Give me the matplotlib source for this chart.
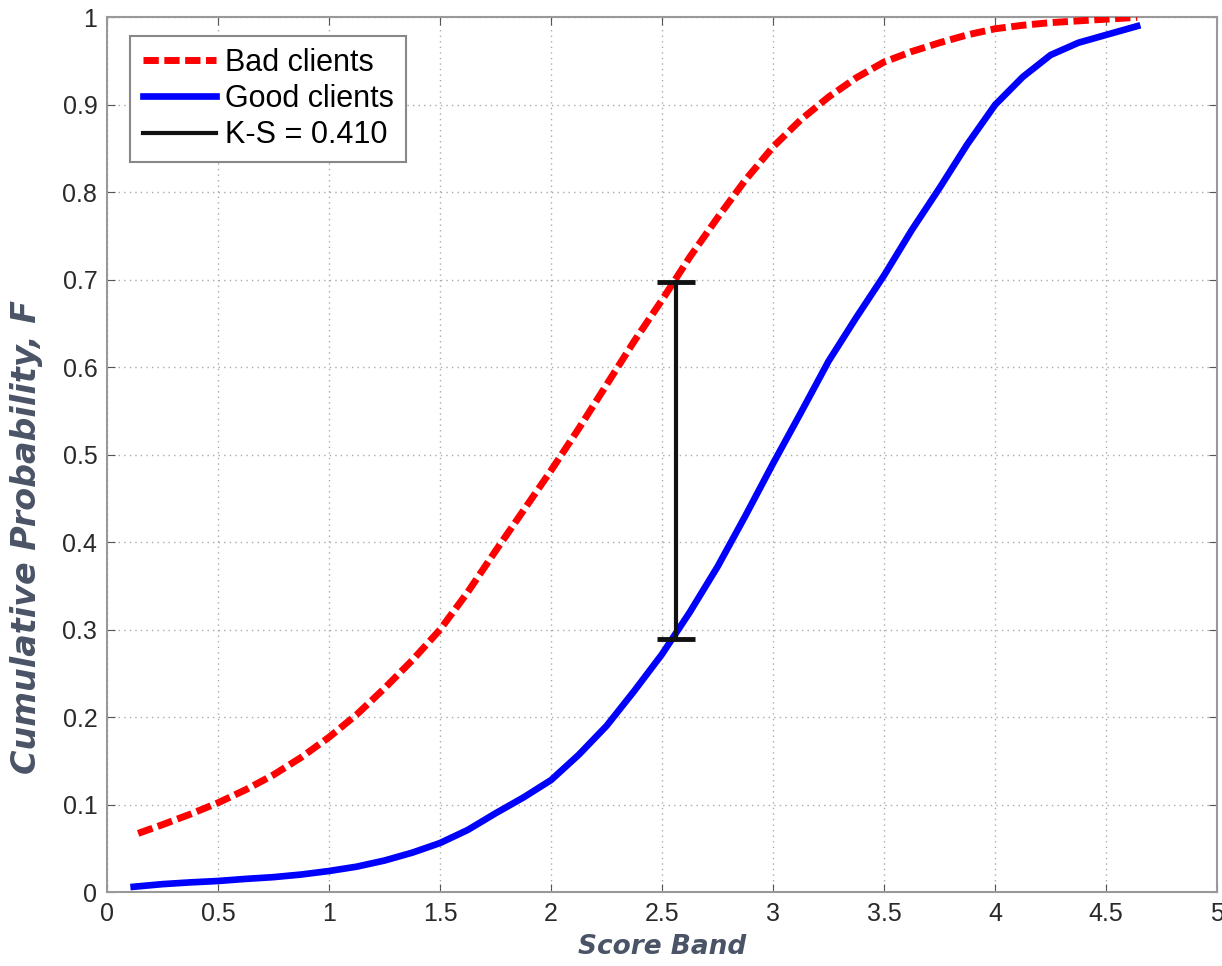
import matplotlib.pyplot as plt
import numpy as np

# cumulative curves
bad_x = [0.14, 0.25, 0.375, 0.5, 0.625, 0.75, 0.875, 1.0, 1.125, 1.25, 1.375, 1.5, 1.625, 1.75, 1.875,
         2.0, 2.125, 2.25, 2.375, 2.5, 2.625, 2.75, 2.875, 3.0, 3.125, 3.25, 3.375, 3.5, 3.625, 3.75,
         3.875, 4.0, 4.125, 4.25, 4.375, 4.5, 4.64]
bad_y = [0.067, 0.077, 0.089, 0.102, 0.117, 0.134, 0.154, 0.177, 0.203, 0.233, 0.265, 0.300, 0.343, 0.390, 0.436,
         0.482, 0.530, 0.580, 0.630, 0.677, 0.726, 0.771, 0.814, 0.852, 0.883, 0.909, 0.931, 0.949, 0.961, 0.971,
         0.980, 0.987, 0.991, 0.994, 0.996, 0.998, 1.0]
good_x = [0.12, 0.25, 0.375, 0.5, 0.625, 0.75, 0.875, 1.0, 1.125, 1.25, 1.375, 1.5, 1.625, 1.75, 1.875,
          2.0, 2.125, 2.25, 2.375, 2.5, 2.625, 2.75, 2.875, 3.0, 3.125, 3.25, 3.375, 3.5, 3.625, 3.75,
          3.875, 4.0, 4.125, 4.25, 4.375, 4.5, 4.64]
good_y = [0.006, 0.009, 0.011, 0.0126, 0.015, 0.017, 0.020, 0.024, 0.029, 0.036, 0.045, 0.056, 0.071, 0.090, 0.108,
          0.128, 0.157, 0.190, 0.230, 0.272, 0.320, 0.372, 0.430, 0.490, 0.548, 0.607, 0.657, 0.705, 0.757, 0.805,
          0.855, 0.900, 0.932, 0.957, 0.971, 0.980, 0.990]
ks_x = 2.563
ks_lo = 0.289
ks_hi = 0.697
ks_label = 'K-S = 0.410'

xticks = np.arange(0, 5.01, 0.5)
yticks = np.arange(0, 1.01, 0.1)

fig = plt.figure(figsize=(12.22, 9.66), dpi=100)
ax = fig.add_axes([0.0876, 0.0766, 0.9084, 0.9054])

ax.plot(bad_x, bad_y, color='#ff0000', lw=5, dashes=(2.2, 0.8), label='Bad clients', zorder=3)
ax.plot(good_x, good_y, color='#0000ff', lw=4.8, label='Good clients', zorder=3, solid_joinstyle='round')
ax.plot([ks_x, ks_x], [ks_lo, ks_hi], color='#111111', lw=3, label=ks_label, zorder=4)
ax.plot([ks_x, ks_x], [ks_lo, ks_hi], ls='none', marker='_', ms=28, mew=3.5, color='#111111', zorder=4)

ax.set_xlim(0, 5)
ax.set_ylim(0, 1)
ax.set_xticks(xticks)
ax.set_yticks(yticks)
ax.set_xticklabels(['0', '0.5', '1', '1.5', '2', '2.5', '3', '3.5', '4', '4.5', '5'])
ax.set_yticklabels(['0', '0.1', '0.2', '0.3', '0.4', '0.5', '0.6', '0.7', '0.8', '0.9', '1'])
ax.tick_params(direction='in', top=True, right=True, length=6, color='#555555',
               labelsize=18, labelcolor='#2a2a2a', pad=7)
for lab in ax.get_xticklabels() + ax.get_yticklabels():
    lab.set_fontfamily('Liberation Sans')
ax.grid(True, ls=(0, (1, 3)), color='#aaaaaa', lw=1)
for s in ax.spines.values():
    s.set_color('#999999')
    s.set_linewidth(1.5)

ax.set_xlabel('Score Band', fontsize=19, fontweight='bold', style='italic', color='#4a5466', labelpad=6)
ax.set_ylabel('Cumulative Probability, F', fontsize=24, fontweight='bold', style='italic', color='#4a5466')
ax.yaxis.set_label_coords(-0.058, 0.406)

leg = ax.legend(loc='upper left', bbox_to_anchor=(0.021, 0.979), prop={'family': 'Liberation Sans', 'size': 22},
                fancybox=False, framealpha=1, edgecolor='#888888', handlelength=2.4, handletextpad=0.3,
                borderpad=0.4, labelspacing=0.2, borderaxespad=0)
leg.get_frame().set_linewidth(1.5)

fig.savefig('out.png', dpi=100)
